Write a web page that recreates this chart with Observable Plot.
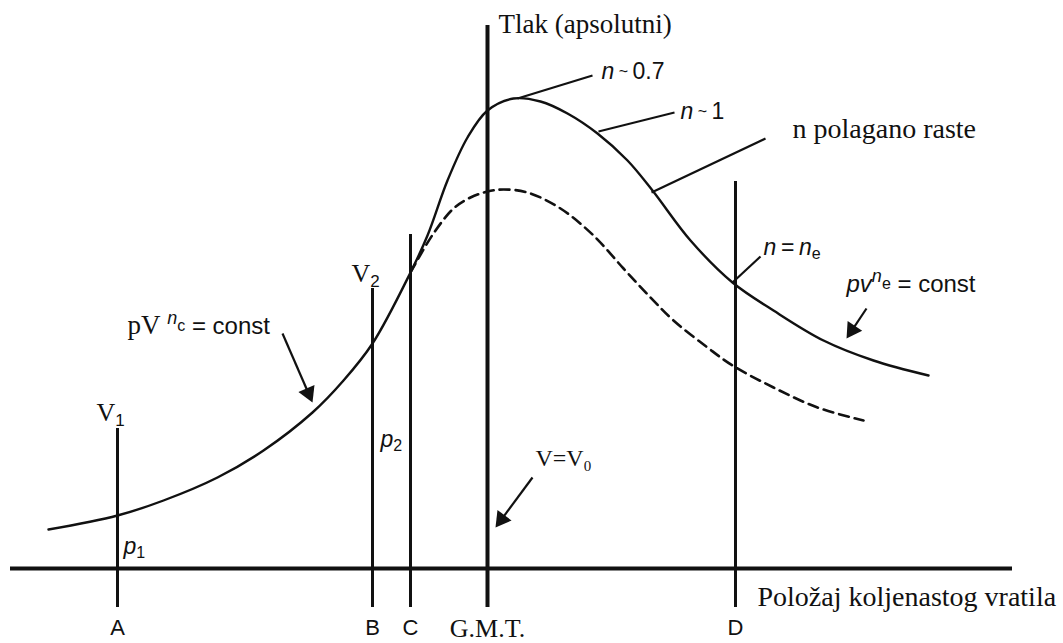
<!DOCTYPE html>
<html><head><meta charset="utf-8">
<script src="https://cdn.jsdelivr.net/npm/d3@7"></script>
<script src="https://cdn.jsdelivr.net/npm/@observablehq/plot@0.6"></script>
<style>html,body{margin:0;padding:0;background:#fff;} #chart svg{display:block}</style>
</head><body><div id="chart"></div>
<script>
const SERIF = "'Liberation Serif','Times New Roman',serif";
const SANS = "'Liberation Sans',Arial,sans-serif";

// crank position (x) and absolute pressure above baseline (p)
const firedX = [48,117,163,217,263,312,343,372,410,427,447,467,487,513,540,567,597,627,652,690,732,773,823,873,928];
const firedP = [39,53,68,91,118,156,188,225,296,333,388,431,458,470,467,455,435,408,378,328,286,258,228,208,193];
const motoredX = [410,415,433,453,470,487,503,527,560,593,623,650,673,707,732,773,817,863];
const motoredP = [296,305,335,360,371,377,379,376,360,333,300,271,248,221,203,181,161,148];

// crank positions marked on the axis
const markNames = ["A","B","C","G.M.T.","D"];
const markX = [117,372,410,487,735];
const markTop = [140,280,334,543,387];
const markBottom = -39;
const markWidth = [3,3,3,4,3];
const axisX1 = 10, axisX2 = 1012;

// leader lines for the polytropic exponent notes
const leadX1 = [517,598,651,732];
const leadP1 = [470,437,376,286];
const leadX2 = [592,674,765,760];
const leadP2 = [493,456,430,312];

// arrows (start -> tip)
const arrX1 = [282,532,866];
const arrP1 = [235,91,260];
const arrX2 = [312,495,846];
const arrP2 = [166,41,230];

// labels
const labelText = ["Tlak (apsolutni)","n polagano raste","Položaj koljenastog vratila","G.M.T.","V=V0","V1","V2","pVnc = const",
                   "n ~ 0.7","n ~ 1","n = ne","pvne = const","p1","p2","A","B","C","D"];
const labelX = [498,792,757,487,535,96,351,127, 601,680,763,846,123,380,117,372,410,735];
const labelP = [536,431,-37,-68,103,148,287,235, 490,450,314,277,15,122,-66,-66,-66,-66];
const labelFamily = ["serif","serif","serif","serif","serif","serif","serif","serif",
                     "sans","sans","sans","sans","sans","sans","sans","sans","sans","sans"];
const labelSize = [27,28,28,26,24,26,26,26, 23,23,23,23,23,23,22,22,22,22];
const labelAnchor = ["start","start","start","middle","start","start","start","start",
                     "start","start","start","start","start","start","middle","middle","middle","middle"];

// rich rendering of labels: [text, family, style, size, baseline offset]
const S = "\u00a0";
const rich = {
  "V=V0": [["V=V","serif","normal",24,0],["0","serif","normal",15,5]],
  "V1": [["V","serif","normal",26,0],["1","sans","normal",17,5]],
  "V2": [["V","serif","normal",26,0],["2","sans","normal",17,5]],
  "pVnc = const": [["pV"+S,"serif","normal",27,0],["n","sans","italic",18,-10],["c","sans","normal",16,-3],[S+"="+S+"const","sans","normal",24,0]],
  "n ~ 0.7": [["n","sans","italic",23,0],[S+"~"+S,"sans","normal",16,-2],["0.7","sans","normal",23,0]],
  "n ~ 1": [["n","sans","italic",23,0],[S+"~"+S,"sans","normal",16,-2],["1","sans","normal",23,0]],
  "n = ne": [["n","sans","italic",23,0],["\u2009=\u2009","sans","normal",23,0],["n","sans","italic",23,0],["e","sans","normal",16,4]],
  "pvne = const": [["pv","sans","italic",24,0],["n","sans","italic",18,-10],["e","sans","normal",16,-3],[S+"="+S+"const","sans","normal",24,0]],
  "p1": [["p","sans","italic",23,0],["1","sans","normal",16,4]],
  "p2": [["p","sans","italic",23,0],["2","sans","normal",16,4]]
};

const fired = firedX.map((x,i)=>({x, p: firedP[i]}));
const motored = motoredX.map((x,i)=>({x, p: motoredP[i]}));
const marksData = markX.map((x,i)=>({name: markNames[i], x, top: markTop[i], w: markWidth[i]}));
const leads = leadX1.map((x,i)=>({x1:x, p1:leadP1[i], x2:leadX2[i], p2:leadP2[i]}));
const headR = 6.5;
const headTip = 2*Math.sqrt(Math.PI*headR*headR/(3*Math.sqrt(3)));
const arrows = arrX1.map((x,i)=>{
  const dx = arrX2[i]-x, dp = arrP2[i]-arrP1[i], L = Math.hypot(dx,dp);
  return {x1:x, p1:arrP1[i], x2:arrX2[i], p2:arrP2[i],
          cx: arrX2[i]-dx/L*headTip, cp: arrP2[i]-dp/L*headTip,
          rot: Math.atan2(dx, dp)*180/Math.PI};
});
const labels = labelText.map((t,i)=>({t, x:labelX[i], p:labelP[i], fam:labelFamily[i], size:labelSize[i], anchor:labelAnchor[i]}));

const textMark = (fam, anchor) => Plot.text(labels.filter(d=>d.fam===fam && d.anchor===anchor), {
  x:"x", y:"p", text:"t", fontSize:"size", textAnchor:anchor, lineAnchor:"bottom",
  fontFamily: fam==="serif"?SERIF:SANS, fill:"#111"
});

const svg = Plot.plot({
  width:1063, height:643, margin:0,
  style:{background:"#fff", overflow:"visible"},
  x:{domain:[0,1063], axis:null},
  y:{domain:[-75,568], axis:null},
  marks:[
    Plot.ruleY([0], {x1:axisX1, x2:axisX2, stroke:"#111", strokeWidth:4}),
    ...marksData.map(d=>Plot.ruleX([d], {x:"x", y1:markBottom, y2:"top", stroke:"#111", strokeWidth:d.w})),
    Plot.line(motored, {x:"x", y:"p", curve:"catmull-rom", stroke:"#111", strokeWidth:2.6, strokeDasharray:"10,6"}),
    Plot.line(fired, {x:"x", y:"p", curve:"catmull-rom", stroke:"#111", strokeWidth:2.4}),
    Plot.link(leads, {x1:"x1", y1:"p1", x2:"x2", y2:"p2", stroke:"#111", strokeWidth:2.2}),
    Plot.link(arrows, {x1:"x1", y1:"p1", x2:"cx", y2:"cp", stroke:"#111", strokeWidth:2.2}),
    Plot.dot(arrows, {x:"cx", y:"cp", symbol:"triangle", r:headR, rotate:"rot", fill:"#111", stroke:"none"}),
    textMark("serif","start"), textMark("serif","middle"),
    textMark("sans","start"), textMark("sans","middle")
  ]
});

const ns = "http://www.w3.org/2000/svg";
svg.querySelectorAll("text").forEach(el => {
  const segs = rich[el.textContent];
  if (!segs) return;
  el.textContent = "";
  let cur = 0;
  for (const [t, fam, st, sz, off] of segs) {
    const ts = document.createElementNS(ns, "tspan");
    ts.setAttribute("font-family", fam==="serif"?SERIF:SANS);
    ts.setAttribute("font-style", st);
    ts.setAttribute("font-size", sz);
    ts.setAttribute("dy", off-cur); cur = off;
    ts.textContent = t;
    el.appendChild(ts);
  }
});
document.getElementById("chart").appendChild(svg);
</script>
</body></html>
